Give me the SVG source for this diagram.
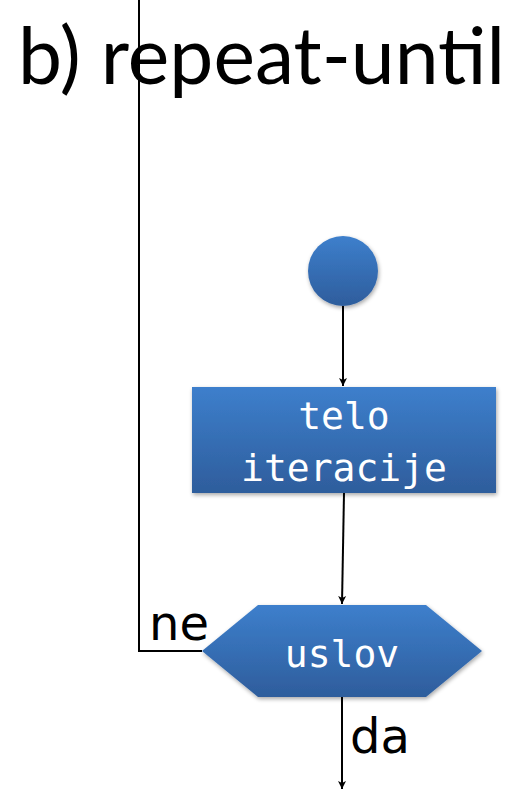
<svg xmlns="http://www.w3.org/2000/svg" width="515" height="790" viewBox="0 0 515 790">
<style>
.node{fill:url(#g);filter:url(#sh)}
.ntxt{font-family:"DejaVu Sans Mono",monospace;font-size:38px;fill:#fff;text-anchor:middle}
.lbl{font-family:"DejaVu Sans","Open Sans",sans-serif;font-size:48px;fill:#000}
.title{font-family:"Lato","Open Sans",sans-serif;font-size:80px;fill:#000}
.edge{stroke:#000;stroke-width:2;fill:none}
</style>
<defs>
<linearGradient id="g" x1="0" y1="0" x2="0" y2="1">
<stop offset="0" stop-color="#3d7fcc"/>
<stop offset="1" stop-color="#2e5d9c"/>
</linearGradient>
<filter id="sh" x="-10%" y="-10%" width="130%" height="130%">
<feGaussianBlur in="SourceAlpha" stdDeviation="2"/>
<feOffset dx="1" dy="2" result="b"/>
<feComponentTransfer><feFuncA type="linear" slope="0.35"/></feComponentTransfer>
<feMerge><feMergeNode/><feMergeNode in="SourceGraphic"/></feMerge>
</filter>
<marker id="ar" markerWidth="10" markerHeight="10" refX="8" refY="5" orient="auto" markerUnits="userSpaceOnUse">
<path d="M0,1 L8,5 L0,9 L2,5 Z" fill="#000"/>
</marker>
</defs>
<text x="18" y="84" class="title" textLength="487" lengthAdjust="spacingAndGlyphs">b) repeat-until</text>
<g id="connectors">
<line class="edge" x1="343" y1="306" x2="343" y2="386" marker-end="url(#ar)"/>
<line class="edge" x1="344" y1="493" x2="342" y2="604" marker-end="url(#ar)"/>
<polyline class="edge" points="202,651 139,651 139,0"/>
<line class="edge" x1="342" y1="697" x2="342" y2="789" marker-end="url(#ar)"/>
</g>
<g id="start"><circle class="node" cx="343" cy="271" r="35"/></g>
<g id="body"><rect class="node" x="192" y="387" width="304" height="106"/>
<text class="ntxt" x="344" y="429">telo</text>
<text class="ntxt" x="344" y="481">iteracije</text></g>
<g id="cond"><polygon class="node" points="202,651 258,605 426,605 482,651 426,697 258,697"/>
<text class="ntxt" x="342" y="667">uslov</text></g>
<text class="lbl" x="149" y="640">ne</text>
<text class="lbl" x="350" y="753">da</text>
</svg>
